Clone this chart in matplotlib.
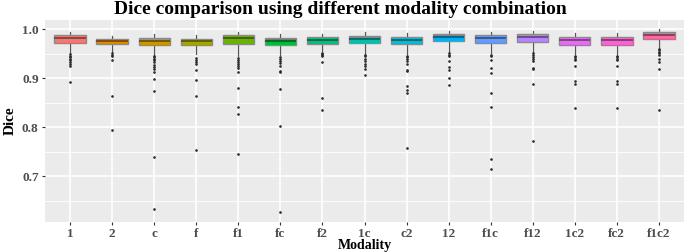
import matplotlib
matplotlib.use("Agg")
import matplotlib.pyplot as plt
import matplotlib.colors as mcolors
import numpy as np

categories = ["1", "2", "c", "f", "f1", "fc", "f2", "1c", "c2", "12", "f1c", "f12", "1c2", "fc2", "f1c2"]
colors = ["#F8766D", "#E58700", "#C99800", "#A3A500", "#6BB100", "#00BA38", "#00BF7D",
          "#00C0AF", "#00BCD8", "#00B0F6", "#619CFF", "#B983FF", "#E76BF3", "#FD61D1", "#FF67A4"]

q1 = [0.973, 0.969, 0.967, 0.967, 0.969, 0.967, 0.971, 0.972, 0.969, 0.976, 0.973, 0.975, 0.968, 0.968, 0.981]
med = [0.9816, 0.976, 0.976, 0.976, 0.9816, 0.976, 0.978, 0.980, 0.978, 0.984, 0.982, 0.985, 0.978, 0.978, 0.988]
q3 = [0.9884, 0.980, 0.9816, 0.980, 0.988, 0.982, 0.984, 0.986, 0.984, 0.990, 0.988, 0.990, 0.984, 0.984, 0.995]
whislo = [0.952, 0.953, 0.948, 0.950, 0.946, 0.947, 0.955, 0.950, 0.949, 0.953, 0.951, 0.953, 0.949, 0.949, 0.962]
whishi = [0.995, 0.987, 0.990, 0.988, 0.995, 0.990, 0.990, 0.994, 0.993, 0.997, 0.995, 0.997, 0.992, 0.992, 1.000]
outliers = [
    [0.949, 0.946, 0.943, 0.940, 0.937, 0.934, 0.930, 0.925, 0.892],
    [0.951, 0.948, 0.945, 0.937, 0.863, 0.795],
    [0.946, 0.943, 0.940, 0.937, 0.933, 0.928, 0.924, 0.918, 0.912, 0.899, 0.875, 0.740, 0.634],
    [0.941, 0.937, 0.933, 0.930, 0.916, 0.897, 0.863, 0.754],
    [0.941, 0.937, 0.933, 0.929, 0.926, 0.922, 0.912, 0.880, 0.842, 0.827, 0.746],
    [0.944, 0.940, 0.936, 0.932, 0.926, 0.915, 0.912, 0.878, 0.802, 0.627],
    [0.952, 0.950, 0.947, 0.945, 0.934, 0.860, 0.835],
    [0.948, 0.945, 0.940, 0.935, 0.930, 0.925, 0.919, 0.906],
    [0.946, 0.943, 0.939, 0.935, 0.930, 0.917, 0.915, 0.884, 0.876, 0.869, 0.757],
    [0.951, 0.948, 0.945, 0.936, 0.924, 0.916, 0.901, 0.887],
    [0.948, 0.946, 0.938, 0.922, 0.910, 0.870, 0.841, 0.735, 0.714],
    [0.951, 0.948, 0.944, 0.940, 0.935, 0.921, 0.918, 0.888, 0.773],
    [0.945, 0.943, 0.940, 0.937, 0.925, 0.895, 0.888, 0.839],
    [0.945, 0.943, 0.940, 0.937, 0.925, 0.895, 0.888, 0.839],
    [0.960, 0.957, 0.954, 0.951, 0.948, 0.940, 0.934, 0.920, 0.836],
]
yticks = [0.7, 0.8, 0.9, 1.0]
yminor = [0.65, 0.75, 0.85, 0.95]

serif = ["Liberation Serif", "DejaVu Serif"]

fig = plt.figure(figsize=(6.85, 2.52), dpi=100)
ax = fig.add_axes([45 / 685, 1 - 222 / 252, 639 / 685, 202 / 252])
ax.set_facecolor("#EBEBEB")
for s in ax.spines.values():
    s.set_visible(False)

pos = np.arange(1, len(categories) + 1)
ax.set_xlim(0.4, len(categories) + 0.6)
ax.set_ylim(0.6067, 1.019)

for y in yminor:
    ax.axhline(y, color="white", lw=0.6, zorder=0)
for y in yticks:
    ax.axhline(y, color="white", lw=1.2, zorder=0)
for x in pos:
    ax.axvline(x, color="white", lw=1.2, zorder=0)

stats = []
for i, c in enumerate(categories):
    stats.append(dict(label=c, q1=q1[i], med=med[i], q3=q3[i], whislo=whislo[i],
                      whishi=whishi[i], fliers=outliers[i]))

bp = ax.bxp(stats, positions=pos, widths=0.75, patch_artist=True, showcaps=False,
            flierprops=dict(marker="o", markersize=1.9, markeredgewidth=0,
                            markerfacecolor="#2a2a2a", linestyle="none"),
            whiskerprops=dict(color="#555555", lw=0.9),
            boxprops=dict(lw=1.0), medianprops=dict(lw=1.3))
for i, b in enumerate(bp["boxes"]):
    b.set_facecolor(colors[i])
    b.set_edgecolor("#8a8a8a")
    b.set_zorder(3)
for i, m in enumerate(bp["medians"]):
    rgb = np.array(mcolors.to_rgb(colors[i])) * 0.55
    m.set_color(rgb)
    m.set_zorder(4)

ax.set_xticks(pos)
ax.set_xticklabels(categories)
ax.set_yticks(yticks)
ax.set_yticklabels(["0.7", "0.8", "0.9", "1.0"])
ax.tick_params(axis="both", colors="#333333", length=2.5, width=0.8, pad=2)
for lab in ax.get_xticklabels() + ax.get_yticklabels():
    lab.set_family(serif)
    lab.set_fontweight("bold")
    lab.set_fontsize(9.5)
    lab.set_color("#4D4D4D")

ax.set_xlabel("Modality", family=serif, fontweight="bold", fontsize=10, labelpad=-1)
ax.set_ylabel("Dice", family=serif, fontweight="bold", fontsize=11, labelpad=4)
fig.text(0.497, 0.995, "Dice comparison using different modality combination", family=serif,
         fontweight="bold", fontsize=14, ha="center", va="top")

fig.savefig("out.png", dpi=100)
